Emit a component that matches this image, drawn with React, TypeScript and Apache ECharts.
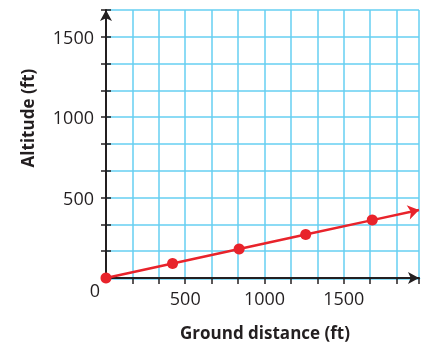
import React, { useEffect, useRef } from "react";
import * as echarts from "echarts";

const groundDistance = [0, 420, 840, 1260, 1680];
const altitude = [0, 90, 180, 270, 360];
const lineArrowEnd = [1975, 423];
const xTitle = "Ground distance (ft)";
const yTitle = "Altitude (ft)";
const originLabel = "0";

const STEP = 500 / 3;
const BLUE = "#66cff2";
const RED = "#e8232b";
const INK = "#231f20";
const FONT = "'Open Sans', 'Noto Sans', sans-serif";

const fmt = (v: number) => {
  const r = Math.round(v);
  return r > 0 && r % 500 === 0 ? String(r) : "";
};

export default function App() {
  const ref = useRef<HTMLDivElement>(null);
  useEffect(() => {
    if (!ref.current) return;
    const chart = echarts.init(ref.current, null, { renderer: "svg" });
    const pts = groundDistance.map((x, i) => [x, altitude[i]]);
    const last = pts[pts.length - 1];
    chart.setOption({
      animation: false,
      grid: { left: 106, top: 10, width: 314, bottom: 66, containLabel: false },
      xAxis: [
        {
          type: "value",
          min: 0,
          max: lineArrowEnd[0],
          interval: STEP,
          axisLine: {
            show: true,
            onZero: false,
            symbol: ["none", "arrow"],
            symbolSize: [9, 11],
            lineStyle: { color: INK, width: 2 },
          },
          axisTick: { show: true, length: 6, lineStyle: { color: INK, width: 1.5 } },
          axisLabel: {
            formatter: fmt,
            color: INK,
            fontSize: 18,
            fontFamily: FONT,
            margin: 11,
            showMinLabel: false,
          },
          splitLine: { show: true, lineStyle: { color: BLUE, width: 1.5 } },
          z: 3,
        },
        {
          type: "value",
          position: "top",
          min: 0,
          max: lineArrowEnd[0],
          interval: STEP,
          axisLine: { show: true, lineStyle: { color: BLUE, width: 2.5 } },
          axisTick: { show: false },
          axisLabel: { show: false },
          splitLine: { show: false },
          z: 1,
        },
      ],
      yAxis: [
        {
          type: "value",
          min: 0,
          max: STEP * 10,
          interval: STEP,
          axisLine: {
            show: true,
            onZero: false,
            symbol: ["none", "arrow"],
            symbolSize: [9, 11],
            lineStyle: { color: INK, width: 2 },
          },
          axisTick: { show: true, length: 5, lineStyle: { color: INK, width: 1.5 } },
          axisLabel: {
            formatter: fmt,
            color: INK,
            fontSize: 18,
            fontFamily: FONT,
            margin: 12,
            showMinLabel: false,
          },
          splitLine: { show: true, lineStyle: { color: BLUE, width: 1.5 } },
          z: 3,
        },
        {
          type: "value",
          position: "left",
          min: 0,
          max: STEP * 10,
          interval: STEP,
          axisLine: { show: false },
          axisTick: { show: true, inside: true, length: 5, lineStyle: { color: INK, width: 1.5 } },
          axisLabel: { show: false },
          splitLine: { show: false },
          z: 3,
        },
      ],
      series: [
        {
          type: "line",
          data: pts,
          symbol: "circle",
          symbolSize: 11,
          itemStyle: { color: RED },
          lineStyle: { color: RED, width: 2.5 },
          z: 5,
        },
        {
          type: "lines",
          coordinateSystem: "cartesian2d",
          xAxisIndex: 0,
          yAxisIndex: 0,
          symbol: ["none", "arrow"],
          symbolSize: 11,
          lineStyle: { color: RED, width: 2.5, opacity: 1 },
          data: [{ coords: [last, lineArrowEnd] }],
          z: 5,
        },
      ],
      graphic: [
        {
          type: "text",
          x: 95,
          y: 290,
          style: {
            text: originLabel,
            fill: INK,
            font: `18px ${FONT}`,
            align: "center",
            verticalAlign: "middle",
          },
        },
        {
          type: "text",
          x: 27,
          y: 118,
          rotation: Math.PI / 2,
          style: {
            text: yTitle,
            fill: INK,
            font: `bold 17px ${FONT}`,
            align: "center",
            verticalAlign: "middle",
          },
        },
        {
          type: "text",
          x: 265,
          y: 332,
          style: {
            text: xTitle,
            fill: INK,
            font: `bold 17px ${FONT}`,
            align: "center",
            verticalAlign: "middle",
          },
        },
      ],
    });
    return () => chart.dispose();
  }, []);
  return (
    <div
      ref={ref}
      style={{ position: "fixed", left: 0, top: 0, width: 422, height: 344 }}
    />
  );
}
